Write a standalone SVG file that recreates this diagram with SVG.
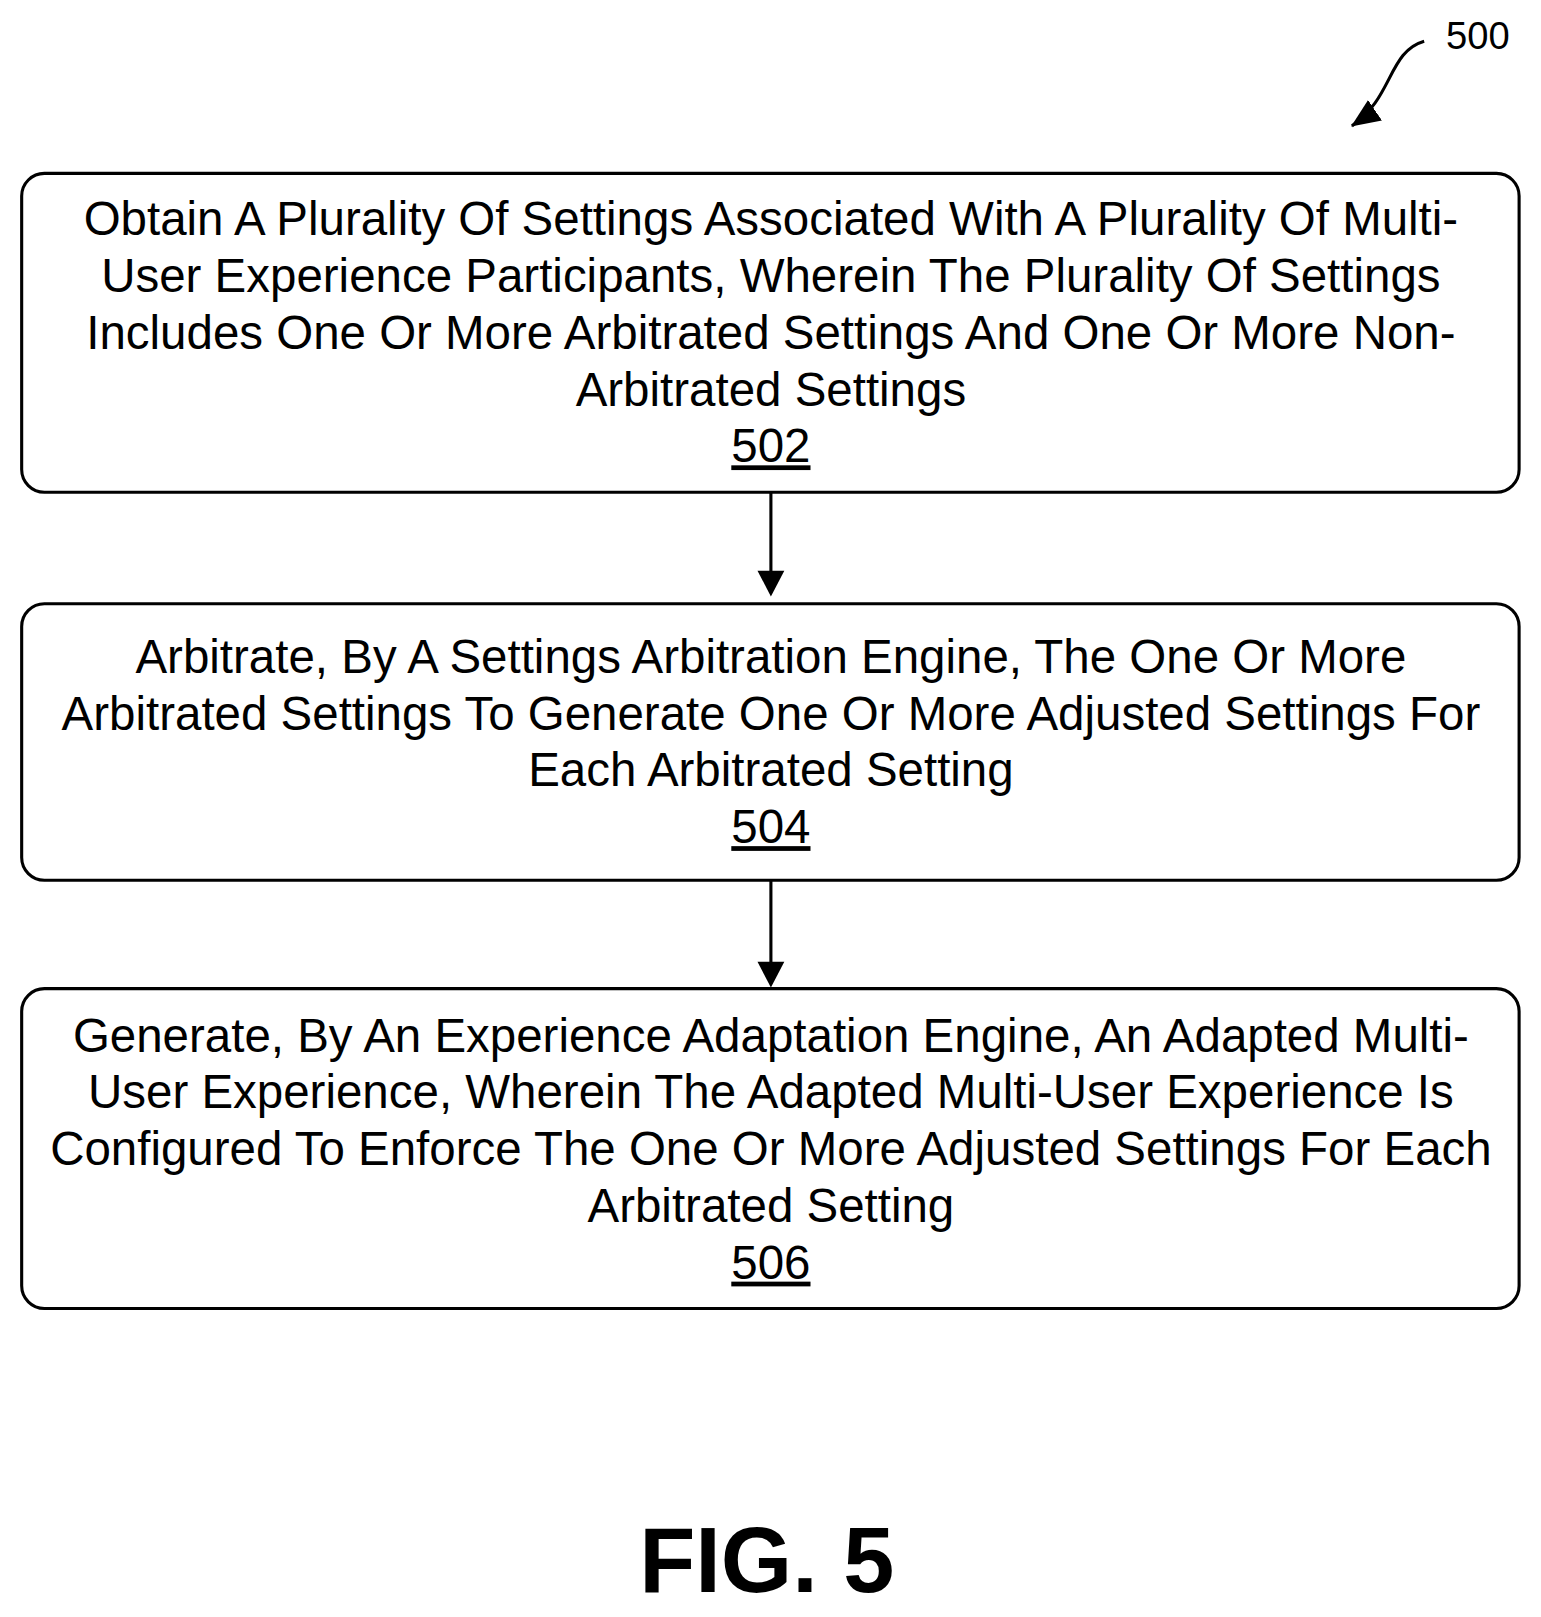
<svg xmlns="http://www.w3.org/2000/svg" width="1541" height="1617" viewBox="0 0 1541 1617">
<style>
.box{fill:#fff;stroke:#000;stroke-width:3}
.t{font-family:"Liberation Sans",Arial,sans-serif;font-size:46px;text-anchor:middle;fill:#000}
.c{stroke:#000;stroke-width:3;fill:none}
</style>
<defs><marker id="b" markerWidth="28" markerHeight="24" refX="27" refY="12" orient="auto" markerUnits="userSpaceOnUse"><path d="M0,0L28,12L0,24z"/></marker></defs>
<rect width="1541" height="1617" fill="#fff"/>
<g transform="scale(1.032)">
<g id="ref500"><text x="1432" y="47" class="t" style="font-size:37px">500</text>
<path class="c" d="M1380,40 C1345,50 1350,95 1310,122" marker-end="url(#b)"/></g>
<g id="n502"><rect class="box" x="21" y="168" width="1451" height="309" rx="22"/>
<text class="t" x="747" y="228">Obtain A Plurality Of Settings Associated With A Plurality Of Multi-</text>
<text class="t" x="747" y="283">User Experience Participants, Wherein The Plurality Of Settings</text>
<text class="t" x="747" y="338">Includes One Or More Arbitrated Settings And One Or More Non-</text>
<text class="t" x="747" y="393">Arbitrated Settings</text>
<text class="t" x="747" y="448" text-decoration="underline">502</text></g>
<g id="n504"><rect class="box" x="21" y="585" width="1451" height="268" rx="22"/>
<text class="t" x="747" y="652">Arbitrate, By A Settings Arbitration Engine, The One Or More</text>
<text class="t" x="747" y="707">Arbitrated Settings To Generate One Or More Adjusted Settings For</text>
<text class="t" x="747" y="762">Each Arbitrated Setting</text>
<text class="t" x="747" y="817" text-decoration="underline">504</text></g>
<g id="n506"><rect class="box" x="21" y="958" width="1451" height="310" rx="22"/>
<text class="t" x="747" y="1019">Generate, By An Experience Adaptation Engine, An Adapted Multi-</text>
<text class="t" x="747" y="1074">User Experience, Wherein The Adapted Multi-User Experience Is</text>
<text class="t" x="747" y="1129">Configured To Enforce The One Or More Adjusted Settings For Each</text>
<text class="t" x="747" y="1184">Arbitrated Setting</text>
<text class="t" x="747" y="1239" text-decoration="underline">506</text></g>
<g id="connectors">
<line class="c" x1="747" y1="477" x2="747" y2="555"/><path d="M734,553L760,553L747,578z"/>
<line class="c" x1="747" y1="853" x2="747" y2="934"/><path d="M734,932L760,932L747,957z"/>
</g>
<text class="t" x="743" y="1543" style="font-size:89px;font-weight:bold">FIG. 5</text>
</g>
</svg>
